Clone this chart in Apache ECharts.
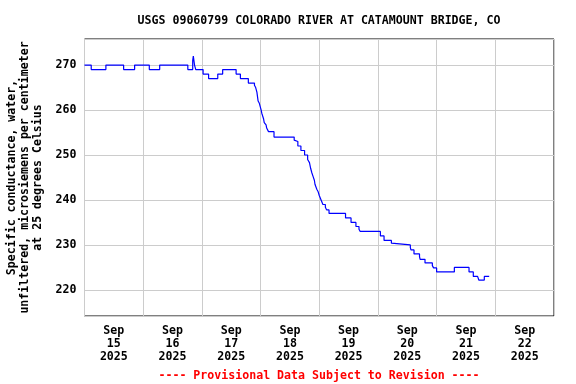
<!DOCTYPE html>
<html>
<head>
<meta charset="utf-8">
<script src="https://cdn.jsdelivr.net/npm/echarts@6/dist/echarts.min.js"></script>
<style>html,body{margin:0;padding:0;background:#fff}#c{width:576px;height:384px}</style>
</head>
<body>
<div id="c"></div>
<script>
// Hours since 2025-09-15 00:00 at which each reading level begins
var hours = [0, 2.75, 8.75, 16, 20.5, 26.5, 30.75, 42.25, 44.25, 44.5, 45, 45.5,
  48.5, 50.75, 54.5, 56.5, 62, 63.75, 67, 69.5, 70, 70.5, 71, 71.5, 71.75, 72.25,
  72.5, 73.25, 73.5, 74.25, 74.5, 75.25, 77.5, 85.75, 86.5, 87.25, 88.5, 90, 91.25,
  92, 92.5, 93, 93.5, 94, 94.25, 95, 95.5, 96, 96.75, 97.5, 98.5, 99, 100, 106.75,
  109, 111, 112.25, 112.75, 121, 122.5, 125.5, 126, 133.25, 133.5, 134.75, 137,
  137.25, 139.25, 142.25, 142.75, 144, 151.25, 157.25, 159, 160.75, 161.25, 163.5, 165.5];
var values = [270, 269, 270, 269, 270, 269, 270, 269, 271, 272, 270, 269,
  268, 267, 268, 269, 268, 267, 266, 265.5, 265, 264, 262, 261.5, 261, 260,
  259.3, 258, 257.2, 256.7, 256, 255.2, 254, 253.3, 253, 252, 251, 250, 249,
  248.3, 247, 246, 245.2, 244.4, 243.5, 242.4, 241.9, 241, 240, 239, 238.4, 237.8, 237, 236,
  235, 234.1, 233.5, 233, 232, 231, 230.4, 230, 229.4, 228.9, 228, 227.4,
  226.8, 226, 225.4, 224.9, 224, 225, 224, 223, 222.7, 222.2, 223, 223];
var dayLabels = ['Sep\n15\n2025', 'Sep\n16\n2025', 'Sep\n17\n2025', 'Sep\n18\n2025',
  'Sep\n19\n2025', 'Sep\n20\n2025', 'Sep\n21\n2025', 'Sep\n22\n2025'];
var titleText = 'USGS 09060799 COLORADO RIVER AT CATAMOUNT BRIDGE, CO';
var yName = 'Specific conductance, water,\nunfiltered, microsiemens per centimeter\nat 25 degrees Celsius';
var footText = '---- Provisional Data Subject to Revision ----';

var FONT = '"DejaVu Sans Mono", "Liberation Mono", monospace';
var pts = hours.map(function (h, i) { return [h, values[i]]; });

var chart = echarts.init(document.getElementById('c'), null, {renderer: 'canvas'});
chart.setOption({
  animation: false,
  backgroundColor: '#fff',
  title: [{
    text: titleText, left: 314, top: 10, textAlign: 'center',
    textStyle: {fontFamily: FONT, fontWeight: 'bold', fontSize: 11.6, color: '#000'}
  }, {
    text: footText, left: 314, top: 365, textAlign: 'center',
    textStyle: {fontFamily: FONT, fontWeight: 'bold', fontSize: 11.6, color: '#ff0000'}
  }],
  grid: {left: 84.5, right: 22, top: 39, bottom: 68, show: true,
    outerBoundsMode: 'none', containLabel: false,
    borderColor: '#000', borderWidth: 1, backgroundColor: 'transparent'},
  xAxis: [{
    type: 'value', min: 0, max: 192, interval: 24,
    axisLine: {show: false}, axisTick: {show: false}, axisLabel: {show: false},
    splitLine: {show: true, lineStyle: {color: '#cccccc', width: 1}}
  }, {
    type: 'category', data: dayLabels, position: 'bottom', boundaryGap: true,
    axisLine: {show: false}, axisTick: {show: false}, splitLine: {show: false},
    axisLabel: {interval: 0, margin: 9, lineHeight: 12.8, fontFamily: FONT,
      fontWeight: 'bold', fontSize: 11.6, color: '#000'}
  }],
  yAxis: {
    type: 'value', min: 214.2, max: 275.8, splitNumber: 6,
    name: yName, nameLocation: 'middle', nameGap: 57, nameRotate: 90,
    nameTextStyle: {fontFamily: FONT, fontWeight: 'bold', fontSize: 11.6, color: '#000',
      lineHeight: 13, align: 'center', verticalAlign: 'middle'},
    axisLine: {show: false}, axisTick: {show: false},
    axisLabel: {margin: 8, fontFamily: FONT, fontWeight: 'bold', fontSize: 11.6, color: '#000',
      showMinLabel: false, showMaxLabel: false,
      formatter: function (v) { return (Math.abs(v % 10) < 1e-6) ? String(v) : ''; }},
    splitLine: {show: true, lineStyle: {color: '#cccccc', width: 1}}
  },
  series: [{
    type: 'line', xAxisIndex: 0, data: pts, step: 'end', symbol: 'none',
    lineStyle: {color: '#0000ff', width: 1.2}, silent: true
  }]
});
</script>
</body>
</html>
